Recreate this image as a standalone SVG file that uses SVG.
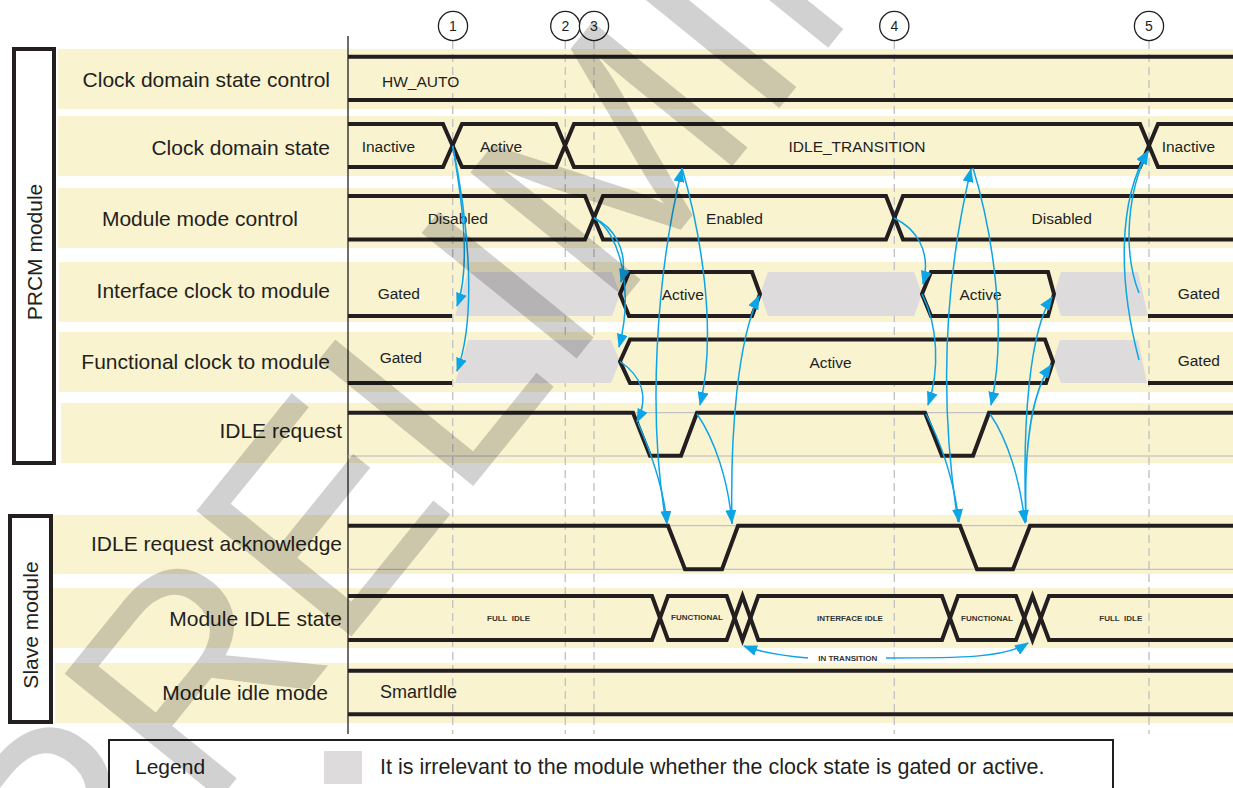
<svg xmlns="http://www.w3.org/2000/svg" width="1233" height="788" viewBox="0 0 1233 788">
<defs>
<style>
.band{fill:#F9F3D0}
.lbl{font-family:"Liberation Sans",Arial,sans-serif;font-size:21px;fill:#231F20}
.bl{font-family:"Liberation Sans",Arial,sans-serif;font-size:15.5px;fill:#231F20}
.sm{font-family:"Liberation Sans",Arial,sans-serif;font-size:8px;font-weight:bold;fill:#333}
.num{font-family:"Liberation Sans",Arial,sans-serif;font-size:14px;fill:#231F20}
.sig{fill:none;stroke:#231F20;stroke-width:4;stroke-linejoin:miter;stroke-miterlimit:10}
.hex{fill:#F9F3D0;stroke:#231F20;stroke-width:4;stroke-linejoin:miter;stroke-miterlimit:10}
.gray{fill:#DEDBDC}
.dash{fill:none;stroke:#C4C4C4;stroke-width:1.4;stroke-dasharray:8 5}
.thin{fill:none;stroke:#B4B4C4;stroke-width:1}
.arr{fill:none;stroke:#0EA5E6;stroke-width:1.5;marker-end:url(#ah)}
.box{fill:none;stroke:#231F20;stroke-width:4}
.wm{font-family:"Liberation Sans",Arial,sans-serif;font-size:290px;fill:#000000;fill-opacity:0.18}
</style>
<marker id="ah" viewBox="0 0 14 11" refX="13" refY="5.5" markerWidth="14" markerHeight="11" markerUnits="userSpaceOnUse" orient="auto">
<path d="M0,0 L14,5.5 L0,11 z" fill="#0EA5E6"/>
</marker>
</defs>
<rect width="1233" height="788" fill="#FFFFFF"/>

<g id="bands">
<rect class="band" x="58" y="49" width="1175" height="60"/>
<rect class="band" x="58" y="116" width="1175" height="60"/>
<rect class="band" x="58" y="188" width="1175" height="60"/>
<rect class="band" x="59" y="262" width="1174" height="60"/>
<rect class="band" x="59" y="332" width="1174" height="60"/>
<rect class="band" x="61" y="403" width="1172" height="60"/>
<rect class="band" x="53" y="515" width="1180" height="59"/>
<rect class="band" x="53" y="588" width="1180" height="60"/>
<rect class="band" x="55" y="663" width="1178" height="60"/>
</g>

<g id="group-prcm">
<rect class="box" x="14" y="49" width="40" height="414"/>
<text class="lbl" transform="translate(42,252) rotate(-90)" text-anchor="middle">PRCM module</text>
</g>
<g id="group-slave">
<rect class="box" x="10" y="516" width="41" height="206"/>
<text class="lbl" transform="translate(38,625) rotate(-90)" text-anchor="middle">Slave module</text>
</g>

<g id="markers">
<line x1="348" y1="36" x2="348" y2="734" stroke="#231F20" stroke-width="1.3"/>
<line class="dash" x1="452.7" y1="41" x2="452.7" y2="734"/>
<line class="dash" x1="565.3" y1="41" x2="565.3" y2="734"/>
<line class="dash" x1="594" y1="41" x2="594" y2="734"/>
<line class="dash" x1="894.3" y1="41" x2="894.3" y2="734"/>
<line class="dash" x1="1149" y1="41" x2="1149" y2="734"/>
<g fill="#FFFFFF" stroke="#231F20" stroke-width="1.3">
<circle cx="453" cy="26" r="14.6"/>
<circle cx="565.3" cy="26" r="14.6"/>
<circle cx="594" cy="26" r="14.6"/>
<circle cx="894.3" cy="26" r="14.6"/>
<circle cx="1149" cy="26" r="14.6"/>
</g>
<g class="num" text-anchor="middle">
<text x="453" y="31">1</text>
<text x="565.3" y="31">2</text>
<text x="594" y="31">3</text>
<text x="894.3" y="31">4</text>
<text x="1149" y="31">5</text>
</g>
</g>

<g id="row-cdsc">
<text class="lbl" x="330" y="86.5" text-anchor="end">Clock domain state control</text>
<path class="sig" d="M348,56.7 H1233 M348,100 H1233"/>
<text class="bl" x="382" y="86.7">HW_AUTO</text>
</g>

<g id="row-cds">
<text class="lbl" x="330" y="155" text-anchor="end">Clock domain state</text>
<path class="sig" d="M348,124 H443 L462,167 H556 L574,124 H1140 L1158,167 H1233"/>
<path class="sig" d="M348,167 H443 L462,124 H556 L574,167 H1140 L1158,124 H1233"/>
<text class="bl" x="361.7" y="151.5">Inactive</text>
<text class="bl" x="480" y="151.5">Active</text>
<text class="bl" x="857" y="151.5" text-anchor="middle">IDLE_TRANSITION</text>
<text class="bl" x="1161.7" y="151.5">Inactive</text>
</g>

<g id="row-mmc">
<text class="lbl" x="298" y="226" text-anchor="end">Module mode control</text>
<path class="sig" d="M348,196 H585 L603,239.5 H886 L903,196 H1233"/>
<path class="sig" d="M348,239.5 H585 L603,196 H886 L903,239.5 H1233"/>
<text class="bl" x="457.8" y="224" text-anchor="middle">Disabled</text>
<text class="bl" x="734.5" y="224" text-anchor="middle">Enabled</text>
<text class="bl" x="1061.7" y="224" text-anchor="middle">Disabled</text>
</g>

<g id="row-iclk">
<text class="lbl" x="330" y="298.3" text-anchor="end">Interface clock to module</text>
<polygon class="gray" points="455,316 468,272 612,272 620,294 612,316"/>
<polygon class="gray" points="768,272 914,272 922,294 914,316 768,316 760,294"/>
<polygon class="gray" points="1061,272 1138,272 1148,316 1061,316 1054,294"/>
<path class="sig" d="M348,316 H452 M1148,316 H1233"/>
<path class="hex" d="M629,272 H752 L760,294 L752,316 H629 L620,294 Z"/>
<path class="hex" d="M931,272 H1048 L1054,294 L1048,316 H931 L922,294 Z"/>
<text class="bl" x="398.8" y="299" text-anchor="middle">Gated</text>
<text class="bl" x="682.8" y="300" text-anchor="middle">Active</text>
<text class="bl" x="980.5" y="300" text-anchor="middle">Active</text>
<text class="bl" x="1198.8" y="299" text-anchor="middle">Gated</text>
</g>

<g id="row-fclk">
<text class="lbl" x="330" y="369.3" text-anchor="end">Functional clock to module</text>
<polygon class="gray" points="455,383 468,340 611,340 620,361.5 611,383"/>
<polygon class="gray" points="1060,340 1138,340 1147,383 1061,383 1053,361.5"/>
<path class="sig" d="M348,383 H452 M1148,383 H1233"/>
<path class="hex" d="M630,339.5 H1045 L1053,361.5 L1046,383 H630 L620,361.5 Z"/>
<text class="bl" x="400.8" y="363.3" text-anchor="middle">Gated</text>
<text class="bl" x="830.5" y="367.7" text-anchor="middle">Active</text>
<text class="bl" x="1198.8" y="365.7" text-anchor="middle">Gated</text>
</g>

<g id="row-idlereq">
<text class="lbl" x="342" y="438.3" text-anchor="end">IDLE request</text>
<path class="thin" d="M348,412.7 H1233 M348,456 H1233"/>
<path class="sig" d="M348,412.7 H633 L650,455.7 H681 L697,412.7 H925 L942,455.7 H973 L989,412.7 H1233"/>
</g>

<g id="row-idleack">
<text class="lbl" x="342" y="551" text-anchor="end">IDLE request acknowledge</text>
<path class="thin" d="M348,525.7 H1233 M348,569.3 H1233"/>
<path class="sig" d="M348,525.7 H668 L685,569.3 H722 L738,525.7 H960 L977,569.3 H1013 L1030,525.7 H1233"/>
</g>

<g id="row-midle">
<text class="lbl" x="342" y="626" text-anchor="end">Module IDLE state</text>
<path class="sig" d="M348,596 H652 L668,640 H726.7 L742.5,596 L758.3,640 H942 L958,596 H1016 L1032.5,640 L1049,596 H1233"/>
<path class="sig" d="M348,640 H652 L668,596 H726.7 L742.5,640 L758.3,596 H942 L958,640 H1016 L1032.5,596 L1049,640 H1233"/>
<text class="sm" x="508.5" y="620.7" text-anchor="middle" xml:space="preserve">FULL  IDLE</text>
<text class="sm" x="697" y="620.3" text-anchor="middle">FUNCTIONAL</text>
<text class="sm" x="850" y="621" text-anchor="middle">INTERFACE IDLE</text>
<text class="sm" x="987" y="621" text-anchor="middle">FUNCTIONAL</text>
<text class="sm" x="1120.8" y="621" text-anchor="middle" xml:space="preserve">FULL  IDLE</text>
<text class="sm" x="847.8" y="661" text-anchor="middle">IN TRANSITION</text>
</g>

<g id="row-mim">
<text class="lbl" x="328" y="700" text-anchor="end">Module idle mode</text>
<path class="sig" d="M348,670.7 H1233 M348,714.3 H1233"/>
<text class="lbl" x="380" y="698.3" style="font-size:18px">SmartIdle</text>
</g>

<g id="connectors">
<path class="arr" d="M452.7,146 C464,210 470,270 457,306"/>
<path class="arr" d="M452.7,146 C470,230 476,320 457,371"/>
<path class="arr" d="M594,218 C612,226 630,250 621,282"/>
<path class="arr" d="M594,218 C620,232 634,290 619,347"/>
<path class="arr" d="M620,361.5 C640,375 650,395 637,422"/>
<path class="arr" d="M638,423 C652,455 664,490 667,524"/>
<path class="arr" d="M666,522 C648,420 655,280 682,169"/>
<path class="arr" d="M682,168 C700,230 718,330 700,405"/>
<path class="arr" d="M697,414 C715,440 728,480 732,523"/>
<path class="arr" d="M732,524 C730,430 738,340 759,296"/>
<path class="arr" d="M894,218 C915,228 932,250 923,284"/>
<path class="arr" d="M922,294 C938,325 940,370 928,405"/>
<path class="arr" d="M926,414 C942,445 954,480 959,522"/>
<path class="arr" d="M958,522 C942,420 940,300 971,169"/>
<path class="arr" d="M973,168 C992,230 1008,330 991,405"/>
<path class="arr" d="M990,414 C1008,440 1020,480 1025,523"/>
<path class="arr" d="M1026,522 C1022,420 1030,330 1052,297"/>
<path class="arr" d="M1026,522 C1024,450 1030,395 1051,365"/>
<path class="arr" d="M1139,293 C1122,250 1128,190 1148,151"/>
<path class="arr" d="M1139,360 C1118,280 1118,200 1148,151"/>
<path class="arr" d="M808,658 C785,656 760,652 744,646"/>
<path class="arr" d="M886,658 C960,658 1005,658 1028,643"/>
</g>

<g id="legend">
<rect x="109" y="740" width="1004" height="60" fill="#FFFFFF" stroke="#231F20" stroke-width="2"/>
<rect class="gray" x="324" y="751" width="38" height="33"/>
<text class="lbl" x="135" y="774">Legend</text>
<text class="lbl" x="380" y="774" style="font-size:21.5px">It is irrelevant to the module whether the clock state is gated or active.</text>
</g>

<g id="watermark">
<text class="wm" transform="translate(83,968) rotate(-51)">PRELIMINARY</text>
</g>
</svg>
